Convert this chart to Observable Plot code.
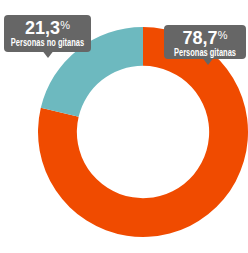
<!DOCTYPE html>
<html><head><meta charset="utf-8">
<script src="https://cdn.jsdelivr.net/npm/d3@7"></script>
<script src="https://cdn.jsdelivr.net/npm/@observablehq/plot@0.6"></script>
<style>body{margin:0;background:#fff}</style>
</head><body><div id="chart"></div>
<script>
const categories = ["Personas gitanas", "Personas no gitanas"];
const values = [78.7, 21.3];
const valueLabels = ["78,7", "21,3"];
const colors = ["#F04B00", "#6DB9BF"];

const data = categories.map((c, i) => ({category: c, value: values[i], label: valueLabels[i], color: colors[i]}));
const pie = d3.pie().value(d => d.value).sort(null)(data);

// callout layout (pixel box centers, pointer tips)
const callouts = {
  "Personas gitanas": {cx: 205, top: 25, w: 82, h: 34, tip: 208},
  "Personas no gitanas": {cx: 47.5, top: 15, w: 87, h: 37, tip: 48}
};

const donut = (index, scales, values, dims) => {
  const svg = d3.create("svg:g");
  const cx = scales.x(0), cy = scales.y(0);
  const R = scales.x(1) - scales.x(0);
  const arc = d3.arc().innerRadius(R * 0.63).outerRadius(R);
  svg.append("g").attr("transform", `translate(${cx},${cy})`)
    .selectAll("path").data(pie).join("path")
    .attr("d", arc).attr("fill", d => d.data.color);
  for (const p of pie) {
    const c = callouts[p.data.category];
    const g = svg.append("g");
    const x0 = c.cx - c.w / 2, y0 = c.top, r = 4;
    g.append("rect").attr("x", x0).attr("y", y0).attr("width", c.w).attr("height", c.h)
      .attr("rx", r).attr("fill", "#666");
    g.append("path").attr("d", `M${c.tip - 5},${y0 + c.h - 0.5}L${c.tip},${y0 + c.h + 6}L${c.tip + 5},${y0 + c.h - 0.5}Z`).attr("fill", "#666");
    const t = g.append("text").attr("x", c.cx).attr("y", y0 + 18.5)
      .attr("text-anchor", "middle").attr("fill", "#fff")
      .attr("font-family", "Liberation Sans, Arial, sans-serif").attr("font-weight", "bold");
    t.append("tspan").attr("font-size", 18).text(p.data.label);
    t.append("tspan").attr("font-size", 11).attr("dy", -5).attr("font-weight", "normal").text("%");
    g.append("text").attr("transform", `translate(${c.cx},${y0 + 30.5}) scale(0.75,1)`)
      .attr("text-anchor", "middle").attr("fill", "#fff")
      .attr("font-family", "Liberation Sans, Arial, sans-serif").attr("font-weight", "bold")
      .attr("font-size", 10)
      .text(p.data.category);
  }
  return svg.node();
};

const plot = Plot.plot({
  width: 248, height: 253,
  margin: 0,
  x: {domain: [-1, 1], range: [38, 248], axis: null},
  y: {domain: [-1, 1], range: [237, 27], axis: null},
  marks: [donut]
});
document.getElementById("chart").appendChild(plot);
</script></body></html>
